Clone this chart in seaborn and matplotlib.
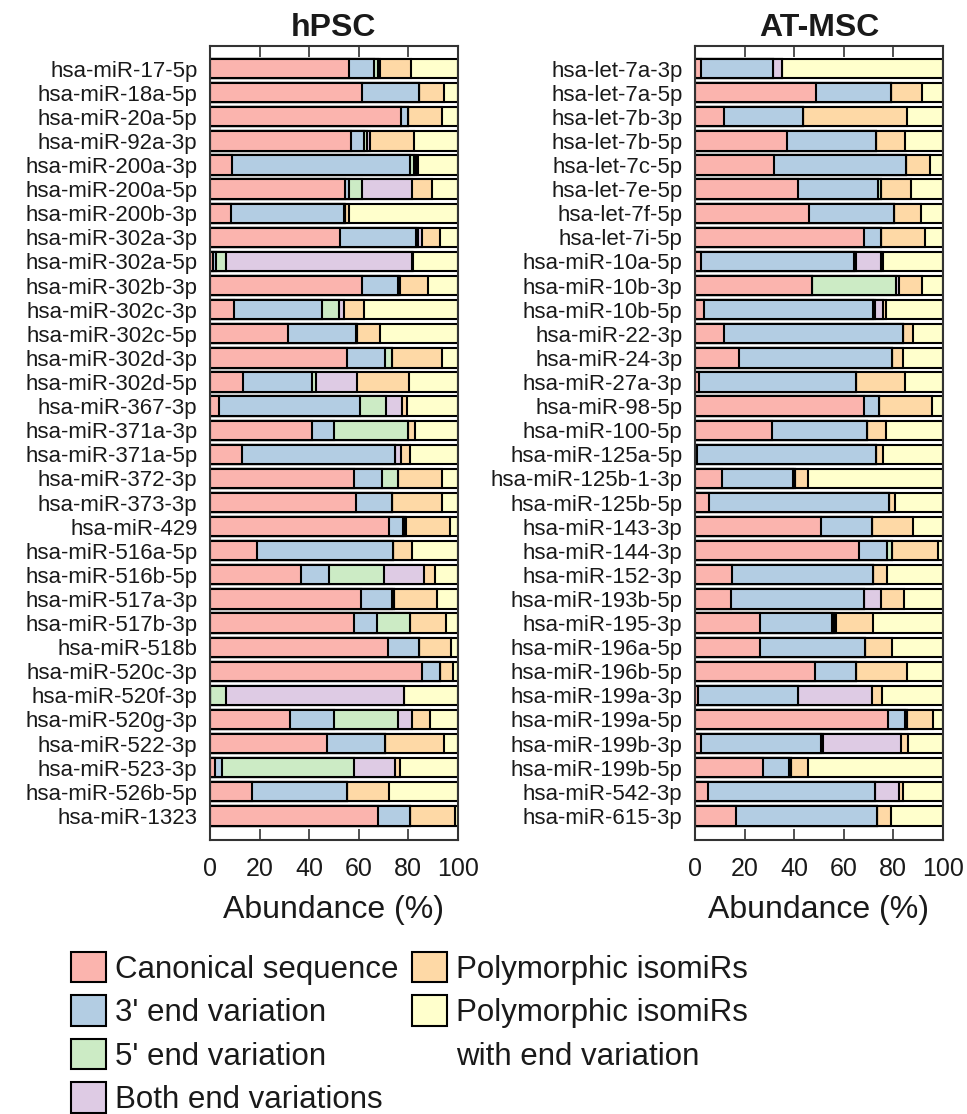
import numpy as np
import pandas as pd
import matplotlib
matplotlib.use("Agg")
import matplotlib.pyplot as plt
import seaborn as sns
from matplotlib.patches import Patch

series_names = ["Canonical sequence", "3' end variation", "5' end variation",
                "Both end variations", "Polymorphic isomiRs",
                "Polymorphic isomiRs\nwith end variation"]

# ---------------- hPSC ----------------
hpsc_mirnas = ["hsa-miR-17-5p", "hsa-miR-18a-5p", "hsa-miR-20a-5p", "hsa-miR-92a-3p",
               "hsa-miR-200a-3p", "hsa-miR-200a-5p", "hsa-miR-200b-3p", "hsa-miR-302a-3p",
               "hsa-miR-302a-5p", "hsa-miR-302b-3p", "hsa-miR-302c-3p", "hsa-miR-302c-5p",
               "hsa-miR-302d-3p", "hsa-miR-302d-5p", "hsa-miR-367-3p", "hsa-miR-371a-3p",
               "hsa-miR-371a-5p", "hsa-miR-372-3p", "hsa-miR-373-3p", "hsa-miR-429",
               "hsa-miR-516a-5p", "hsa-miR-516b-5p", "hsa-miR-517a-3p", "hsa-miR-517b-3p",
               "hsa-miR-518b", "hsa-miR-520c-3p", "hsa-miR-520f-3p", "hsa-miR-520g-3p",
               "hsa-miR-522-3p", "hsa-miR-523-3p", "hsa-miR-526b-5p", "hsa-miR-1323"]
hpsc_canonical = [56.0, 61.5, 77.0, 56.9, 9.0, 54.5, 8.5, 52.6, 1.2, 61.2, 9.8, 31.6, 55.2, 13.5,
                  3.6, 41.3, 12.8, 58.1, 58.8, 72.4, 19.1, 36.6, 61.0, 58.1, 72.0, 85.7, 0.0,
                  32.4, 47.4, 2.0, 17.1, 67.7]
hpsc_end3 = [10.4, 23.0, 3.1, 5.4, 71.9, 1.6, 45.7, 30.4, 1.1, 14.6, 35.3, 27.2, 15.5, 27.5,
             57.0, 8.9, 61.9, 11.5, 14.8, 5.7, 54.7, 11.6, 12.4, 9.5, 12.4, 7.3, 0.0,
             17.8, 23.4, 2.7, 38.3, 13.1]
hpsc_end5 = [1.3, 0.0, 0.0, 1.1, 1.6, 5.1, 0.5, 1.1, 4.0, 0.5, 7.0, 0.4, 2.9, 1.8,
             10.3, 29.6, 0.0, 6.2, 0.0, 0.6, 0.0, 22.2, 1.0, 13.2, 0.0, 0.0, 6.5,
             25.8, 0.0, 53.4, 0.0, 0.0]
hpsc_both = [1.0, 0.0, 0.0, 1.0, 0.8, 20.2, 0.0, 1.3, 75.4, 0.4, 2.1, 0.0, 0.0, 16.4,
             6.5, 0.0, 2.4, 0.0, 0.0, 0.4, 0.0, 15.9, 0.0, 0.0, 0.0, 0.0, 71.8,
             5.4, 0.0, 16.6, 0.0, 0.0]
hpsc_poly = [12.5, 10.0, 13.7, 18.1, 0.5, 8.1, 1.4, 7.6, 0.3, 11.2, 8.0, 9.4, 19.9, 21.3,
             2.3, 3.0, 3.7, 17.7, 20.2, 17.8, 7.6, 4.5, 17.4, 14.5, 12.8, 5.3, 0.0,
             7.6, 23.5, 2.2, 17.0, 18.1]
hpsc_poly_end = [18.8, 5.5, 6.2, 17.5, 16.2, 10.5, 43.9, 7.0, 18.0, 12.1, 37.8, 31.4, 6.5, 19.5,
                 20.3, 17.2, 19.2, 6.5, 6.2, 3.1, 18.6, 9.2, 8.2, 4.7, 2.8, 1.7, 21.7,
                 11.0, 5.7, 23.1, 27.6, 1.1]

# ---------------- AT-MSC ----------------
msc_mirnas = ["hsa-let-7a-3p", "hsa-let-7a-5p", "hsa-let-7b-3p", "hsa-let-7b-5p",
              "hsa-let-7c-5p", "hsa-let-7e-5p", "hsa-let-7f-5p", "hsa-let-7i-5p",
              "hsa-miR-10a-5p", "hsa-miR-10b-3p", "hsa-miR-10b-5p", "hsa-miR-22-3p",
              "hsa-miR-24-3p", "hsa-miR-27a-3p", "hsa-miR-98-5p", "hsa-miR-100-5p",
              "hsa-miR-125a-5p", "hsa-miR-125b-1-3p", "hsa-miR-125b-5p", "hsa-miR-143-3p",
              "hsa-miR-144-3p", "hsa-miR-152-3p", "hsa-miR-193b-5p", "hsa-miR-195-3p",
              "hsa-miR-196a-5p", "hsa-miR-196b-5p", "hsa-miR-199a-3p", "hsa-miR-199a-5p",
              "hsa-miR-199b-3p", "hsa-miR-199b-5p", "hsa-miR-542-3p", "hsa-miR-615-3p"]
msc_canonical = [2.4, 48.7, 11.7, 37.3, 32.0, 41.7, 46.2, 68.4, 2.4, 47.1, 3.6, 11.8, 17.6, 1.6,
                 68.2, 31.0, 0.9, 10.8, 5.8, 50.9, 66.4, 15.1, 14.5, 26.2, 26.2, 48.6, 1.3,
                 78.1, 2.4, 27.3, 5.4, 16.6]
msc_end3 = [29.2, 30.4, 32.0, 35.8, 53.1, 32.3, 34.3, 6.6, 61.8, 0.0, 68.1, 72.0, 62.1, 63.3,
            6.2, 38.3, 72.2, 28.6, 72.7, 20.4, 11.0, 56.6, 53.9, 29.3, 42.4, 16.3, 40.4,
            6.7, 48.5, 10.8, 67.3, 56.8]
msc_end5 = [0.0, 0.0, 0.0, 0.0, 0.0, 1.0, 0.0, 0.0, 0.8, 33.9, 1.1, 0.0, 0.0, 0.0,
            0.0, 0.0, 0.0, 1.0, 0.0, 0.0, 2.0, 0.0, 0.0, 0.6, 0.0, 0.0, 0.0,
            0.9, 0.7, 0.7, 0.0, 0.0]
msc_both = [3.7, 0.0, 0.0, 0.0, 0.0, 0.0, 0.0, 0.0, 10.2, 1.4, 3.0, 0.0, 0.0, 0.0,
            0.0, 0.0, 0.0, 0.0, 0.0, 0.0, 0.0, 0.0, 6.6, 0.7, 0.0, 0.0, 29.6,
            0.0, 31.4, 0.0, 9.8, 0.0]
msc_poly = [0.0, 12.7, 42.0, 11.7, 9.8, 12.3, 10.6, 18.0, 0.8, 9.1, 1.3, 4.4, 4.4, 19.9,
            21.2, 7.7, 2.9, 5.4, 2.3, 16.9, 18.9, 6.0, 9.5, 14.9, 10.8, 20.6, 4.3,
            10.5, 2.9, 7.0, 1.3, 5.7]
msc_poly_end = [64.7, 8.2, 14.3, 15.2, 5.1, 12.7, 8.9, 7.0, 24.0, 8.5, 22.9, 11.8, 15.9, 15.2,
                4.4, 23.0, 24.0, 54.2, 19.2, 11.8, 1.7, 22.3, 15.5, 28.3, 20.6, 14.5, 24.4,
                3.8, 14.1, 54.2, 16.2, 20.9]

x_ticks = [0, 20, 40, 60, 80, 100]

sns.set_theme(style="white")
plt.rcParams['font.family'] = ['Liberation Sans', 'DejaVu Sans']
plt.rcParams['text.color'] = '#1a1a1a'
plt.rcParams['axes.labelcolor'] = '#1a1a1a'
plt.rcParams['xtick.color'] = '#333333'
plt.rcParams['ytick.color'] = '#333333'
plt.rcParams['xtick.labelcolor'] = '#1a1a1a'
plt.rcParams['ytick.labelcolor'] = '#1a1a1a'

colors = sns.color_palette("Pastel1", 6)
W, H = 967, 1114
fig = plt.figure(figsize=(W / 100, H / 100), dpi=100)

ax1 = fig.add_axes([210 / W, 1 - 840 / H, 247.7 / W, 794.3 / H])
ax2 = fig.add_axes([695 / W, 1 - 840 / H, 247.7 / W, 794.3 / H])


def draw(ax, names, series, title):
    data = pd.DataFrame(np.array(series).T, columns=series_names)
    data["miRNA"] = names
    cum = data[series_names].cumsum(axis=1)
    for k in range(len(series_names) - 1, -1, -1):
        sns.barplot(x=cum[series_names[k]].values, y=data["miRNA"].values,
                    color=colors[k], saturation=1, orient="h", width=0.8,
                    edgecolor="black", linewidth=1.5, errorbar=None, ax=ax)
    ax.set_xlim(0, 100)
    ax.set_ylim(32.0, -0.95)
    ax.set_xticks(x_ticks)
    ax.tick_params(axis="x", direction="in", top=True, bottom=True, length=8,
                   width=1.2, labelsize=18, pad=12)
    ax.tick_params(axis="y", length=0, labelsize=16, pad=9)
    for s in ax.spines.values():
        s.set_color("#333333")
        s.set_linewidth(1.5)
        s.set_visible(True)
    ax.set_ylabel("")
    ax.set_xlabel("Abundance (%)", fontsize=23, labelpad=10)
    ax.set_title(title, fontsize=23, fontweight="bold", pad=7)


draw(ax1, hpsc_mirnas, [hpsc_canonical, hpsc_end3, hpsc_end5, hpsc_both, hpsc_poly, hpsc_poly_end], "hPSC")
draw(ax2, msc_mirnas, [msc_canonical, msc_end3, msc_end5, msc_both, msc_poly, msc_poly_end], "AT-MSC")

handles = [Patch(facecolor=colors[i], edgecolor="black", linewidth=1.5) for i in range(6)]
leg_kw = dict(frameon=False, fontsize=22.5, handlelength=1.12, handleheight=1.12,
              handletextpad=0.3, labelspacing=0.34, borderpad=0, borderaxespad=0,
              loc="upper left")
leg1 = fig.legend(handles[:4], series_names[:4], bbox_to_anchor=(71 / W, 1 - 952 / H), **leg_kw)
blank = Patch(facecolor="none", edgecolor="none")
leg2 = fig.legend([handles[4], handles[5], blank],
                  ["Polymorphic isomiRs", "Polymorphic isomiRs", "with end variation"],
                  bbox_to_anchor=(412 / W, 1 - 952 / H), **leg_kw)

fig.savefig("out.png", dpi=100)
